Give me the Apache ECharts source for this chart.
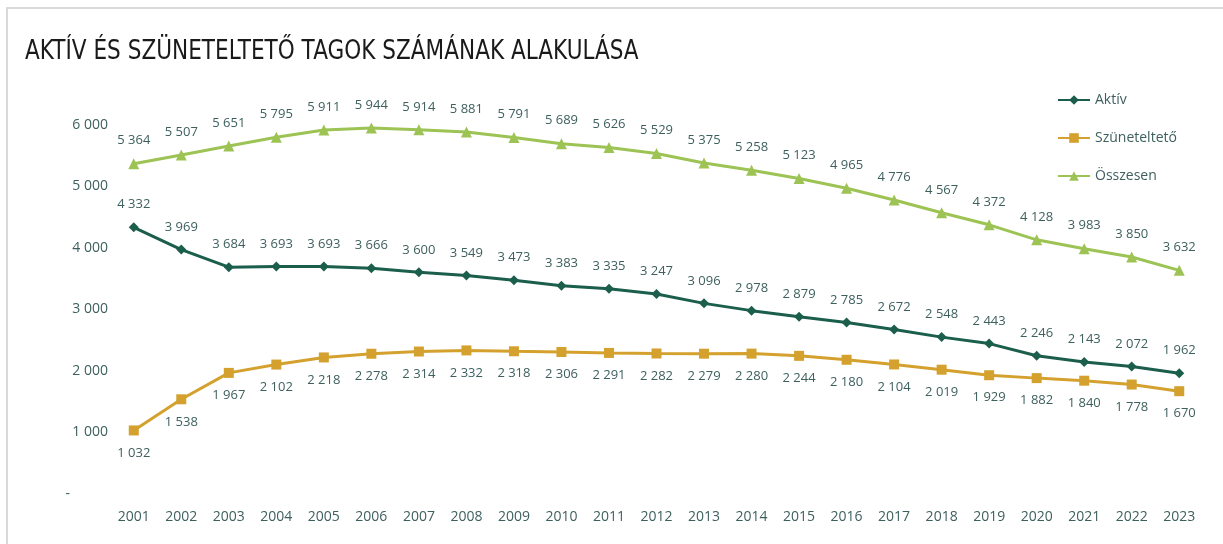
<!DOCTYPE html>
<html>
<head>
<meta charset="utf-8">
<script src="https://cdn.jsdelivr.net/npm/echarts@6/dist/echarts.min.js"></script>
<style>
html,body{margin:0;padding:0;background:#fff;}
#frame{position:absolute;left:6px;top:7px;width:1217px;height:537px;border-top:2px solid #d9d9d9;border-left:2px solid #d9d9d9;box-sizing:border-box;}
#chart{position:absolute;left:0;top:0;width:1223px;height:544px;}
</style>
</head>
<body>
<div id="frame"></div>
<div id="chart"></div>
<script>
const years = ['2001','2002','2003','2004','2005','2006','2007','2008','2009','2010','2011','2012','2013','2014','2015','2016','2017','2018','2019','2020','2021','2022','2023'];
const aktiv = [4332,3969,3684,3693,3693,3666,3600,3549,3473,3383,3335,3247,3096,2978,2879,2785,2672,2548,2443,2246,2143,2072,1962];
const szunet = [1032,1538,1967,2102,2218,2278,2314,2332,2318,2306,2291,2282,2279,2280,2244,2180,2104,2019,1929,1882,1840,1778,1670];
const osszesen = [5364,5507,5651,5795,5911,5944,5914,5881,5791,5689,5626,5529,5375,5258,5123,4965,4776,4567,4372,4128,3983,3850,3632];
const seriesNames = ['Aktív','Szüneteltető','Összesen'];
const titleText = 'AKTÍV ÉS SZÜNETELTETŐ TAGOK SZÁMÁNAK ALAKULÁSA';

const fmt = v => String(v).replace(/\B(?=(\d{3})+(?!\d))/g, ' ');
const textColor = '#3d605d';
const font = '"Open Sans", "Noto Sans", sans-serif';

const chart = echarts.init(document.getElementById('chart'));
function lbl(pos){
  return {show:true, position:pos, distance:11, color:textColor, fontSize:13, fontFamily:font,
    formatter:p=>fmt(p.value)};
}
chart.setOption({
  animation:false,
  graphic:[{type:'text', left:25, top:38, scaleX:0.8, scaleY:1, originX:0,
    style:{text:titleText, fontFamily:'"DejaVu Sans", sans-serif', fontSize:27, fill:'#1a1a1a'}}],
  legend:{orient:'vertical', left:1052, top:88, itemGap:24, itemWidth:32, itemHeight:12,
    textStyle:{color:textColor, fontSize:14, fontFamily:font},
    data:seriesNames},
  grid:{left:110, right:20, top:63, bottom:50},
  xAxis:{type:'category', data:years, boundaryGap:true,
    axisLine:{show:false}, axisTick:{show:false},
    axisLabel:{color:textColor, fontSize:14, fontFamily:font, margin:16}},
  yAxis:{type:'value', min:0, max:7000, interval:1000,
    splitLine:{show:false}, axisLine:{show:false}, axisTick:{show:false},
    axisLabel:{color:textColor, fontSize:14, fontFamily:font, margin:2,
      formatter:v=> v===7000 ? '' : (v===0 ? '{d|-}' : fmt(v)),
      rich:{d:{color:textColor, fontSize:14, padding:[0,38,0,0]}}}},
  series:[
    {name:seriesNames[0], type:'line', data:aktiv, symbol:'diamond', symbolSize:10,
     lineStyle:{width:3, color:'#1b5e4b'}, itemStyle:{color:'#1b5e4b'}, label:lbl('top'), z:3},
    {name:seriesNames[1], type:'line', data:szunet, symbol:'rect', symbolSize:10,
     lineStyle:{width:3, color:'#d4a12e'}, itemStyle:{color:'#d4a12e'}, label:lbl('bottom'), z:2},
    {name:seriesNames[2], type:'line', data:osszesen, symbol:'triangle', symbolSize:11,
     lineStyle:{width:3, color:'#9cc353'}, itemStyle:{color:'#9cc353'}, label:lbl('top'), z:1}
  ]
});
</script>
</body>
</html>
